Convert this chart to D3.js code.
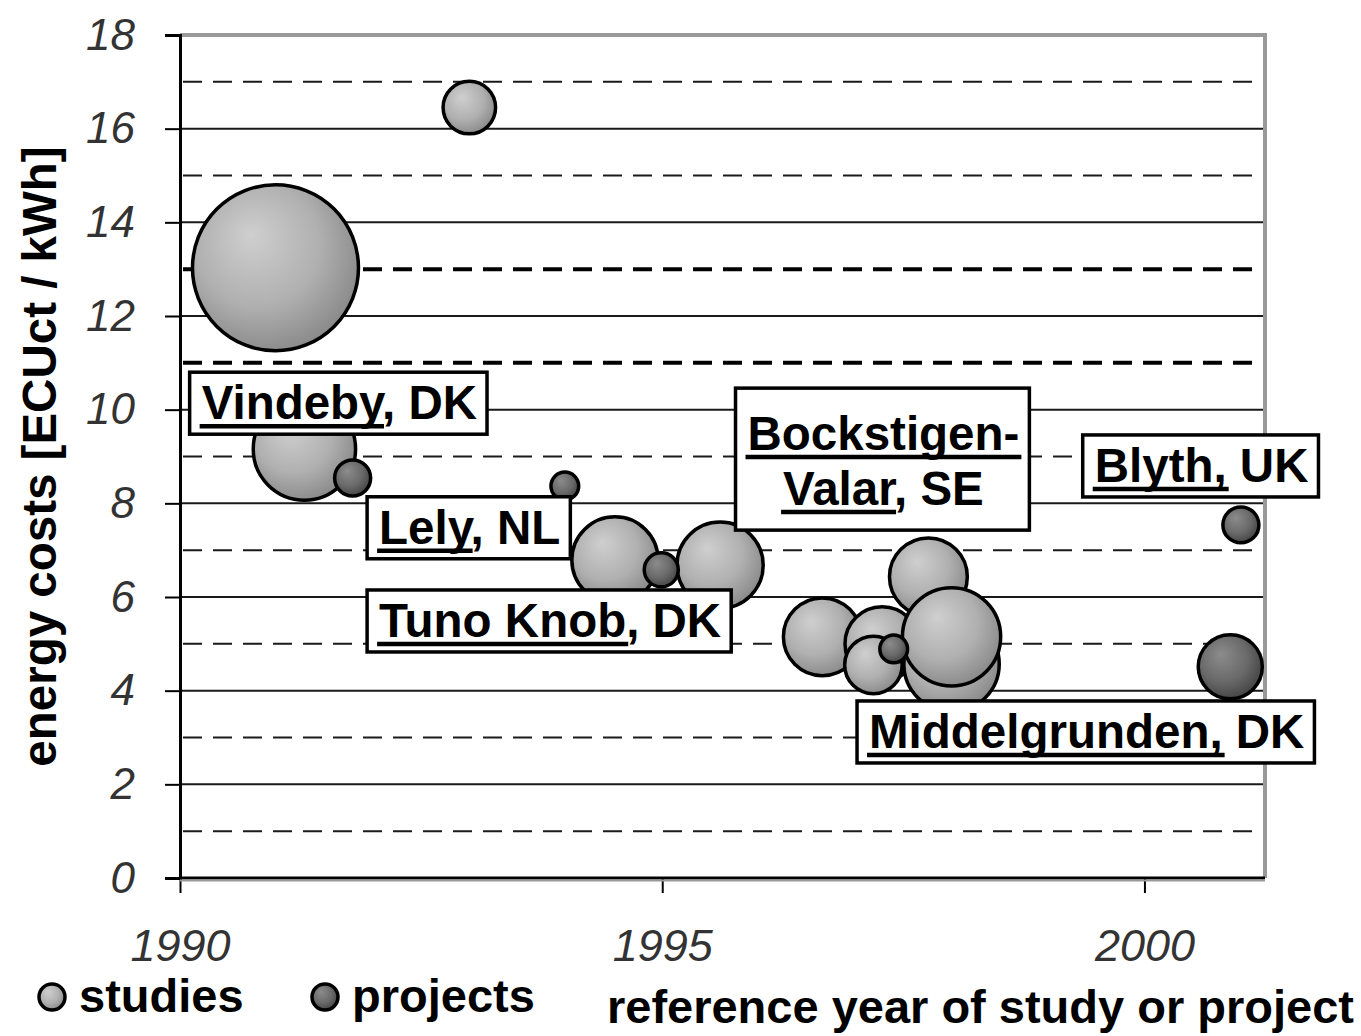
<!DOCTYPE html>
<html>
<head>
<meta charset="utf-8">
<script src="https://cdn.jsdelivr.net/npm/d3@7"></script>
<style>
  html, body { margin: 0; padding: 0; background: #fff; }
  svg { display: block; }
</style>
</head>
<body>
<svg id="chart" width="1361" height="1036"></svg>
<script>
// ---- data ----
const studyYears   = [1990.99, 1991.29, 1993.00, 1994.51, 1995.60, 1996.66, 1997.28, 1997.19, 1997.76, 1998.00, 1998.00];
const studyCosts   = [13.03,   9.16,    16.45,   6.79,    6.68,    5.15,    5.00,    4.55,    6.43,    4.57,    5.15];
const studySizes   = [100,     38,      10,      27,      27,      22,      20,      12,      22,      33,      35];

const projectYears = [1991.79, 1993.99, 1994.99, 1997.40, 2001.00, 2000.89];
const projectCosts = [8.54,    8.37,    6.58,    4.89,    7.54,    4.51];
const projectSizes = [4.7,     2.8,     4.2,     2.8,     4.7,     14.9];

const yTickValues = [0, 2, 4, 6, 8, 10, 12, 14, 16, 18];
const xTickValues = [1990, 1995, 2000];
const dashedGrid  = [1, 3, 5, 7, 9, 15, 17];
const boldDashedGrid = [11, 13];

const seriesNames = ["studies", "projects"];
const yTitle = "energy costs [ECUct / kWh]";
const xTitle = "reference year of study or project";

// site labels: lines of text, underlined char count per line, anchor (year, cost) = box top-left
const siteLabels = [
  { lines: ["Vindeby, DK"],            under: [7],      year: 1990.10, cost: 10.80, align: "start" },
  { lines: ["Lely, NL"],               under: [4],      year: 1991.94, cost: 8.14,  align: "start" },
  { lines: ["Tuno Knob, DK"],          under: [9],      year: 1991.94, cost: 6.15,  align: "start" },
  { lines: ["Bockstigen-", "Valar, SE"], under: [11, 5], year: 1995.76, cost: 10.46, align: "middle" },
  { lines: ["Blyth, UK"],              under: [6],      year: 1999.36, cost: 9.46,  align: "start" },
  { lines: ["Middelgrunden, DK"],      under: [14],     year: 1997.02, cost: 3.78,  align: "start" }
];

// ---- layout ----
const svg = d3.select("#chart");
const pLeft = 180, pRight = 1265, pTop = 35, pBottom = 878;
const x = d3.scaleLinear().domain([1990, 2001.25]).range([pLeft, pRight]);
const y = d3.scaleLinear().domain([0, 18]).range([pBottom, pTop]);
const r = d3.scaleSqrt().domain([0, 100]).range([0, 83]);

const boldFont = "'Liberation Sans', Arial, sans-serif";

// gradients
const defs = svg.append("defs");
function grad(id, c0, c1, c2) {
  const g = defs.append("radialGradient").attr("id", id)
    .attr("cx", "42%").attr("cy", "40%").attr("r", "62%")
    .attr("fx", "35%").attr("fy", "30%");
  g.append("stop").attr("offset", "0%").attr("stop-color", c0);
  g.append("stop").attr("offset", "60%").attr("stop-color", c1);
  g.append("stop").attr("offset", "100%").attr("stop-color", c2);
}
grad("gStudy", "#cfcfcf", "#b0b0b0", "#8a8a8a");
grad("gProject", "#8c8c8c", "#6a6a6a", "#444444");

// gridlines
const grid = svg.append("g");
grid.selectAll("line.solid").data(yTickValues.filter(v => v > 0 && v < 18)).join("line")
  .attr("class", "solid")
  .attr("x1", pLeft).attr("x2", pRight).attr("y1", d => y(d)).attr("y2", d => y(d))
  .attr("stroke", "#1a1a1a").attr("stroke-width", 2);
grid.selectAll("line.dash").data(dashedGrid).join("line")
  .attr("class", "dash")
  .attr("x1", pLeft + 3).attr("x2", pRight).attr("y1", d => y(d)).attr("y2", d => y(d))
  .attr("stroke", "#1a1a1a").attr("stroke-width", 2).attr("stroke-dasharray", "19,11");
grid.selectAll("line.bdash").data(boldDashedGrid).join("line")
  .attr("class", "bdash")
  .attr("x1", pLeft + 3).attr("x2", pRight).attr("y1", d => y(d)).attr("y2", d => y(d))
  .attr("stroke", "#000").attr("stroke-width", 4).attr("stroke-dasharray", "19,11");

// plot border (top/right gray)
svg.append("line").attr("x1", pLeft).attr("x2", pRight + 2).attr("y1", pTop).attr("y2", pTop)
  .attr("stroke", "#999").attr("stroke-width", 4);
svg.append("line").attr("x1", pRight).attr("x2", pRight).attr("y1", pTop).attr("y2", pBottom)
  .attr("stroke", "#999").attr("stroke-width", 4);

// axes
const yAxis = d3.axisLeft(y).tickValues(yTickValues).tickSize(15).tickPadding(30).tickFormat(d3.format("d"));
const gy = svg.append("g").attr("transform", `translate(${pLeft},0)`).call(yAxis);
gy.select(".domain").attr("stroke", "#000").attr("stroke-width", 3);
gy.selectAll(".tick line").attr("stroke", "#000").attr("stroke-width", 2);
gy.selectAll(".tick text").attr("font-family", boldFont).attr("font-style", "italic")
  .attr("font-size", 44).attr("fill", "#333");

const xAxis = d3.axisBottom(x).tickValues(xTickValues).tickSize(15).tickPadding(36).tickFormat(d3.format("d"));
const gx = svg.append("g").attr("transform", `translate(0,${pBottom})`).call(xAxis);
gx.select(".domain").attr("stroke", "#000").attr("stroke-width", 3).attr("d", `M${pLeft},0H${pRight}`);
gx.selectAll(".tick line").attr("stroke", "#000").attr("stroke-width", 2);
gx.selectAll(".tick text").attr("font-family", boldFont).attr("font-style", "italic")
  .attr("font-size", 45).attr("fill", "#333");
svg.append("line").attr("x1", pLeft).attr("x2", pRight).attr("y1", pBottom + 2.5).attr("y2", pBottom + 2.5)
  .attr("stroke", "#999").attr("stroke-width", 2);

// bubbles
const studies = studyYears.map((v, i) => ({ year: v, cost: studyCosts[i], size: studySizes[i] }));
const projects = projectYears.map((v, i) => ({ year: v, cost: projectCosts[i], size: projectSizes[i] }));

svg.append("g").selectAll("circle").data(studies).join("circle")
  .attr("cx", d => x(d.year)).attr("cy", d => y(d.cost)).attr("r", d => r(d.size))
  .attr("fill", "url(#gStudy)").attr("stroke", "#000").attr("stroke-width", 3.5);
svg.append("g").selectAll("circle").data(projects).join("circle")
  .attr("cx", d => x(d.year)).attr("cy", d => y(d.cost)).attr("r", d => r(d.size))
  .attr("fill", "url(#gProject)").attr("stroke", "#000").attr("stroke-width", 3.5);

// site labels
const fs = 47.5, lineH = 55, padL = 12, padR = 10;
siteLabels.forEach(lab => {
  const g = svg.append("g");
  const bx = x(lab.year), by = y(lab.cost);
  const multi = lab.lines.length > 1;
  const texts = lab.lines.map((t, i) => g.append("text")
    .attr("font-family", boldFont).attr("font-weight", "bold").attr("font-size", fs)
    .attr("fill", "#000").text(t));
  const widths = texts.map(t => t.node().getComputedTextLength());
  const maxW = d3.max(widths);
  const boxW = maxW + padL + padR;
  const boxH = multi ? lab.lines.length * lineH + 32 : 62;
  const firstBase = multi ? 62 : 47;
  g.insert("rect", "text").attr("x", bx).attr("y", by).attr("width", boxW).attr("height", boxH)
    .attr("fill", "#fff").attr("stroke", "#000").attr("stroke-width", 3.5);
  texts.forEach((t, i) => {
    const w = widths[i];
    const tx = lab.align === "middle" ? bx + padL + (maxW - w) / 2 : bx + padL;
    const ty = by + firstBase + i * lineH;
    t.attr("x", tx).attr("y", ty);
    const uw = t.node().getSubStringLength(0, lab.under[i]);
    g.append("line").attr("x1", tx - 2).attr("x2", tx + uw + 2)
      .attr("y1", ty + 7).attr("y2", ty + 7).attr("stroke", "#000").attr("stroke-width", 4.5);
  });
});

// axis titles
svg.append("text").attr("transform", `translate(56,${(148 + 765) / 2}) rotate(-90)`)
  .attr("text-anchor", "middle").attr("font-family", boldFont).attr("font-weight", "bold")
  .attr("font-size", 47.5).attr("fill", "#000").text(yTitle);
svg.append("text").attr("x", 1354).attr("y", 1023).attr("text-anchor", "end")
  .attr("font-family", boldFont).attr("font-weight", "bold")
  .attr("font-size", 47).attr("fill", "#000").text(xTitle);

// legend
const legend = svg.append("g");
const legX = [52, 325];
seriesNames.forEach((name, i) => {
  legend.append("circle").attr("cx", legX[i]).attr("cy", 997).attr("r", 13)
    .attr("fill", i === 0 ? "url(#gStudy)" : "url(#gProject)").attr("stroke", "#000").attr("stroke-width", 3.5);
  legend.append("text").attr("x", legX[i] + 27).attr("y", 1012)
    .attr("font-family", boldFont).attr("font-weight", "bold").attr("font-size", 47)
    .attr("fill", "#000").text(name);
});
</script>
</body>
</html>
